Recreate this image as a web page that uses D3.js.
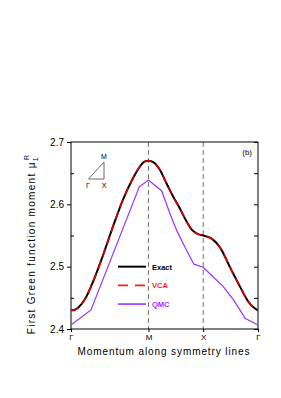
<!DOCTYPE html>
<html><head><meta charset="utf-8">
<script src="https://cdn.jsdelivr.net/npm/d3@7"></script>
<style>body{margin:0;background:#fff}svg{display:block}text{font-family:"Liberation Sans",Arial,sans-serif}</style>
</head><body>
<script>
// path coordinate: Γ=0, M=√2, X=√2+1, Γ=√2+2
const kTicks = [0, Math.SQRT2, Math.SQRT2 + 1, Math.SQRT2 + 2];
const kLabels = ["Γ", "M", "X", "Γ"];
const yTicks = [2.4, 2.5, 2.6, 2.7];
const yMinor = [2.45, 2.55, 2.65];

const exactK = [0, 0.073, 0.152, 0.256, 0.365, 0.579, 0.761, 0.944, 1.127, 1.26, 1.333, 1.414, 1.515, 1.625, 1.747, 1.862, 1.99, 2.1, 2.209, 2.3, 2.414, 2.569, 2.72, 2.903, 3.085, 3.237, 3.341, 3.414];
const exactV = [2.43, 2.431, 2.436, 2.448, 2.468, 2.517, 2.563, 2.6065, 2.641, 2.661, 2.668, 2.67, 2.667, 2.655, 2.633, 2.613, 2.593, 2.574, 2.559, 2.553, 2.55, 2.545, 2.531, 2.499, 2.468, 2.444, 2.434, 2.43];
const vcaV = exactV.slice();

const qmcK = [0, 0.365, 1.247, 1.414, 1.656, 1.808, 1.935, 2.081, 2.245, 2.414, 2.598, 2.781, 2.963, 3.085, 3.177, 3.414];
const qmcV = [2.4065, 2.4306, 2.628, 2.639, 2.6215, 2.585, 2.557, 2.531, 2.504, 2.499, 2.4835, 2.468, 2.447, 2.4306, 2.417, 2.4065];

const legendNames = ["Exact", "VCA", "QMC"];
const colors = {Exact: "#000", VCA: "#ff1a1a", QMC: "#9933ff"};

const W = 281, H = 398;
const L = 71, R = 258, T = 142, B = 329;
const svg = d3.select("body").append("svg").attr("width", W).attr("height", H);

const x = d3.scaleLinear().domain([0, Math.SQRT2 + 2]).range([L, R]);
const y = d3.scaleLinear().domain([2.4, 2.7]).range([B, T]);

// dashed vertical symmetry lines
svg.selectAll("line.sym").data([kTicks[1], kTicks[2]]).join("line")
  .attr("x1", d => x(d)).attr("x2", d => x(d)).attr("y1", T).attr("y2", B)
  .attr("stroke", "#777").attr("stroke-width", 1).attr("stroke-dasharray", "5,3");

// frame
svg.append("rect").attr("x", L).attr("y", T).attr("width", R - L).attr("height", B - T)
  .attr("fill", "none").attr("stroke", "#000").attr("stroke-width", 1);

// left axis
const gl = svg.append("g").attr("transform", `translate(${L},0)`)
  .call(d3.axisLeft(y).tickValues(yTicks).tickFormat(d3.format(".1f")).tickSize(4).tickPadding(3));
gl.select(".domain").remove();
gl.selectAll("text").attr("font-size", 10).attr("fill", "#000");
svg.append("g").attr("transform", `translate(${L},0)`)
  .call(d3.axisRight(y).tickValues(yMinor).tickFormat("").tickSize(3))
  .select(".domain").remove();
// right axis (inward)
const gr = svg.append("g").attr("transform", `translate(${R},0)`)
  .call(d3.axisLeft(y).tickValues(yTicks.concat(yMinor)).tickFormat("").tickSize(4));
gr.select(".domain").remove();

// bottom axis
const gb = svg.append("g").attr("transform", `translate(0,${B})`)
  .call(d3.axisBottom(x).tickValues(kTicks).tickFormat((d, i) => kLabels[i]).tickSize(3).tickPadding(2));
gb.select(".domain").remove();
gb.selectAll("text").attr("font-size", 8).attr("fill", "#000");

// curves
const exact = exactK.map((k, i) => [k, exactV[i]]);
const vca = exactK.map((k, i) => [k, vcaV[i]]);
const qmc = qmcK.map((k, i) => [k, qmcV[i]]);
const smooth = d3.line().x(d => x(d[0])).y(d => y(d[1])).curve(d3.curveMonotoneX);
const lin = d3.line().x(d => x(d[0])).y(d => y(d[1]));

svg.append("path").attr("d", lin(qmc)).attr("fill", "none").attr("stroke", colors.QMC).attr("stroke-width", 1.2);
svg.append("path").attr("d", smooth(exact)).attr("fill", "none").attr("stroke", colors.Exact).attr("stroke-width", 2);
svg.append("path").attr("d", smooth(vca)).attr("fill", "none").attr("stroke", "#e00000").attr("stroke-width", 1.6).attr("stroke-dasharray", "8,5");

// legend
const legY = [2.5, 2.47, 2.44];
legendNames.forEach((n, i) => {
  const yy = y(legY[i]);
  const ln = svg.append("line").attr("x1", 118).attr("x2", 146).attr("y1", yy).attr("y2", yy)
    .attr("stroke", colors[n]).attr("stroke-width", n === "Exact" ? 2 : 1.6);
  if (n === "VCA") ln.attr("stroke-dasharray", "10,7");
  svg.append("text").attr("x", 152).attr("y", yy + 3).attr("font-size", 7.5).attr("font-weight", "bold")
    .attr("fill", colors[n]).text(n);
});

// inset triangle
svg.append("path").attr("d", "M88.5,179 L104,179 L104,162 Z").attr("fill", "none").attr("stroke", "#444").attr("stroke-width", 0.8);
svg.append("text").attr("x", 104).attr("y", 159).attr("text-anchor", "middle").attr("font-size", 7).text("M");
svg.append("text").attr("x", 88).attr("y", 188).attr("text-anchor", "middle").attr("font-size", 7).text("Γ");
svg.append("text").attr("x", 104).attr("y", 188).attr("text-anchor", "middle").attr("font-size", 7).text("X");

// panel label
svg.append("text").attr("x", 252).attr("y", 155).attr("text-anchor", "end").attr("font-size", 8).text("(b)");

// axis titles
svg.append("text").attr("x", 164).attr("y", 355).attr("text-anchor", "middle").attr("font-size", 10)
  .attr("letter-spacing", 0.9).text("Momentum along symmetry lines");
const yt = svg.append("text").attr("transform", "translate(35,244) rotate(-90)")
  .attr("text-anchor", "middle").attr("font-size", 10).attr("letter-spacing", 1.3);
yt.append("tspan").text("First Green function moment μ");
yt.append("tspan").attr("font-size", 7).attr("dy", 2.5).text("1");
yt.append("tspan").attr("font-size", 7).attr("dx", -4).attr("dy", -9).text("R");
</script>
</body></html>
